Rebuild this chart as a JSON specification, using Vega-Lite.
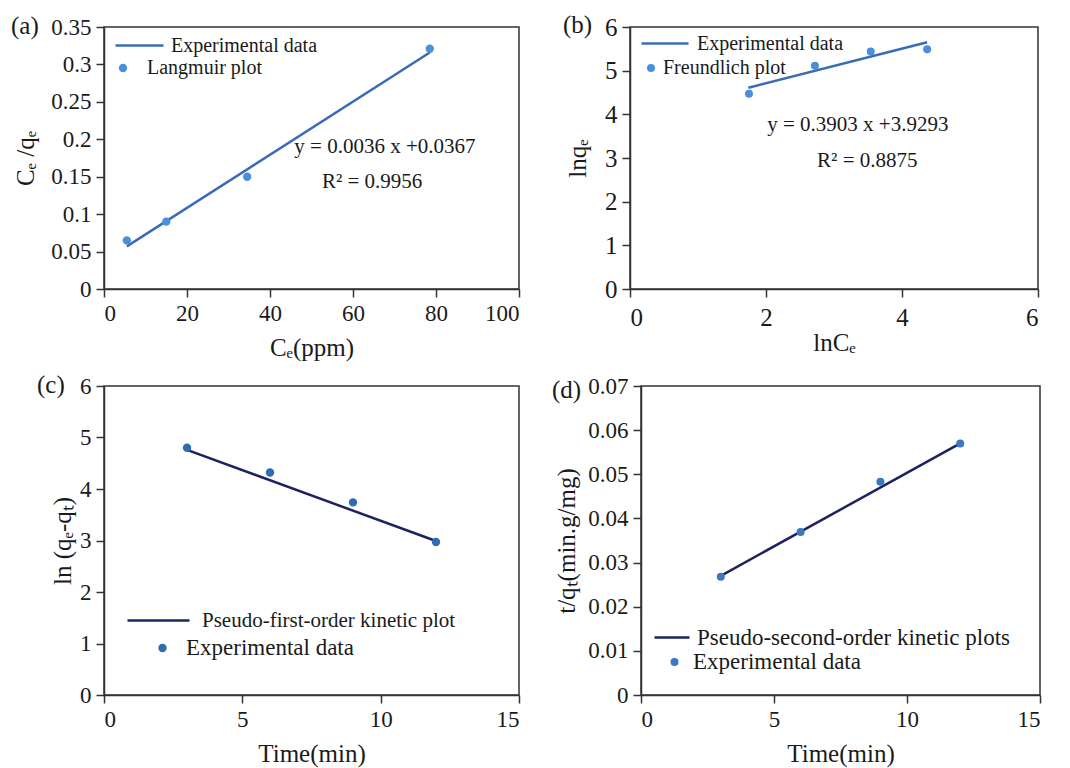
{
  "$schema": "https://vega.github.io/schema/vega-lite/v6.json",
  "background": "white",
  "padding": {"left": 10, "top": 12, "right": 5, "bottom": 5},
  "config": {
    "font": "Liberation Serif",
    "view": {"stroke": "#333", "strokeWidth": 1.5},
    "style": {"guide-label": {"font": "Liberation Serif", "fontSize": 23, "fill": "#1a1a1a"}, "guide-title": {"font": "Liberation Serif", "fontSize": 25, "fill": "#1a1a1a", "fontWeight": "normal"}},
    "axis": {"grid": false, "domainColor": "#333", "domainWidth": 1.5, "tickColor": "#333", "tickWidth": 1.5, "tickSize": 8, "labelFont": "Liberation Serif", "labelFontSize": 23, "labelColor": "#1a1a1a", "labelPadding": 5, "labelOverlap": false, "titleFont": "Liberation Serif", "titleFontSize": 25, "titleFontWeight": "normal", "titleColor": "#1a1a1a", "titlePadding": 10},
    "legend": {"labelFont": "Liberation Serif", "labelColor": "#1a1a1a", "labelFontSize": 20, "labelLimit": 0, "title": null, "padding": 0, "orient": "none"},
    "title": {"font": "Liberation Serif", "fontSize": 25, "fontWeight": "normal", "color": "#1a1a1a"},
    "text": {"font": "Liberation Serif", "fontSize": 21, "color": "#1a1a1a"}
  },
  "spacing": 11,
  "resolve": {"scale": {"x": "independent", "y": "independent", "stroke": "independent", "fill": "independent"}, "legend": {"stroke": "independent", "fill": "independent"}},
  "vconcat": [
    {
      "bounds": "flush",
      "spacing": 111,
      "resolve": {"scale": {"x": "independent", "y": "independent", "stroke": "independent", "fill": "independent"}, "legend": {"stroke": "independent", "fill": "independent"}},
      "hconcat": [
        {
          "width": 415, "height": 262,
          "title": {"text": "(a)", "anchor": "start", "frame": "group", "baseline": "middle", "offset": 0, "dx": -93, "dy": 35},
          "encoding": {
            "x": {"type": "quantitative", "scale": {"domain": [0, 100], "nice": false}, "axis": {"values": [0, 20, 40, 60, 80, 100], "format": "d", "labelFont": "Liberation Serif", "title": "Cₑ(ppm)"}},
            "y": {"type": "quantitative", "scale": {"domain": [0, 0.35], "nice": false}, "axis": {"values": [0, 0.05, 0.1, 0.15, 0.2, 0.25, 0.3, 0.35], "format": "~g", "labelFont": "Liberation Serif", "title": "Cₑ /qₑ", "titlePadding": 12}}
          },
          "layer": [
            {
              "data": {"values": [{"Ce": 5.5, "v": 0.057, "s": "Experimental  data"}, {"Ce": 78.5, "v": 0.316, "s": "Experimental  data"}]},
              "mark": {"type": "line", "strokeWidth": 2.5},
              "encoding": {
                "x": {"field": "Ce"},
                "y": {"field": "v"},
                "stroke": {"field": "s", "type": "nominal", "scale": {"range": ["#3a6bb8"]}, "legend": {"symbolType": "stroke", "symbolSize": 2304, "symbolStrokeWidth": 2.5, "labelOffset": 6, "legendX": 10, "legendY": -7}}
              }
            },
            {
              "data": {"values": [{"Ce": 5.5, "v": 0.065, "s": "Langmuir plot"}, {"Ce": 15, "v": 0.09, "s": "Langmuir plot"}, {"Ce": 34.5, "v": 0.15, "s": "Langmuir plot"}, {"Ce": 78.5, "v": 0.321, "s": "Langmuir plot"}]},
              "mark": {"type": "point", "filled": true, "size": 70, "opacity": 1},
              "encoding": {
                "x": {"field": "Ce"},
                "y": {"field": "v"},
                "fill": {"field": "s", "type": "nominal", "scale": {"range": ["#4a90d9"]}, "legend": {"symbolType": "circle", "symbolSize": 70, "labelOffset": 14, "legendX": 9, "legendY": 31}}
              }
            },
            {"data": {"values": [{"label": "y = 0.0036 x +0.0367"}]}, "mark": {"type": "text"}, "encoding": {"x": {"datum": 67.7}, "y": {"datum": 0.19}, "text": {"field": "label"}}},
            {"data": {"values": [{"label": "R² = 0.9956"}]}, "mark": {"type": "text"}, "encoding": {"x": {"datum": 64.6}, "y": {"datum": 0.1435}, "text": {"field": "label"}}}
          ]
        },
        {
          "width": 408, "height": 262,
          "title": {"text": "(b)", "anchor": "start", "frame": "group", "baseline": "middle", "offset": 0, "dx": -67, "dy": 35},
          "encoding": {
            "x": {"type": "quantitative", "scale": {"domain": [0, 6], "nice": false}, "axis": {"values": [0, 2, 4, 6], "format": "d", "labelFont": "Liberation Serif", "labelFontSize": 25, "labelPadding": 8, "titlePadding": 0, "title": "lnCₑ"}},
            "y": {"type": "quantitative", "scale": {"domain": [0, 6], "nice": false}, "axis": {"values": [0, 1, 2, 3, 4, 5, 6], "format": "d", "labelFont": "Liberation Serif", "labelFontSize": 25, "titlePadding": 14, "title": "lnqₑ"}}
          },
          "layer": [
            {
              "data": {"values": [{"lnCe": 1.74, "v": 4.61, "s": "Experimental  data"}, {"lnCe": 4.37, "v": 5.65, "s": "Experimental  data"}]},
              "mark": {"type": "line", "strokeWidth": 2.5},
              "encoding": {
                "x": {"field": "lnCe"},
                "y": {"field": "v"},
                "stroke": {"field": "s", "type": "nominal", "scale": {"range": ["#3a6bb8"]}, "legend": {"symbolType": "stroke", "symbolSize": 2209, "symbolStrokeWidth": 2.5, "labelOffset": 7, "legendX": 10, "legendY": -8.5}}
              }
            },
            {
              "data": {"values": [{"lnCe": 1.75, "v": 4.47, "s": "Freundlich plot"}, {"lnCe": 2.72, "v": 5.11, "s": "Freundlich plot"}, {"lnCe": 3.54, "v": 5.44, "s": "Freundlich plot"}, {"lnCe": 4.37, "v": 5.49, "s": "Freundlich plot"}]},
              "mark": {"type": "point", "filled": true, "size": 64, "opacity": 1},
              "encoding": {
                "x": {"field": "lnCe"},
                "y": {"field": "v"},
                "fill": {"field": "s", "type": "nominal", "scale": {"range": ["#4a90d9"]}, "legend": {"symbolType": "circle", "symbolSize": 64, "labelOffset": 2, "legendX": 11, "legendY": 31}}
              }
            },
            {"data": {"values": [{"label": "y = 0.3903 x +3.9293"}]}, "mark": {"type": "text"}, "encoding": {"x": {"datum": 3.35}, "y": {"datum": 3.75}, "text": {"field": "label"}}},
            {"data": {"values": [{"label": "R² = 0.8875"}]}, "mark": {"type": "text"}, "encoding": {"x": {"datum": 3.49}, "y": {"datum": 2.93}, "text": {"field": "label"}}}
          ]
        }
      ]
    },
    {
      "bounds": "flush",
      "spacing": 122,
      "resolve": {"scale": {"x": "independent", "y": "independent", "stroke": "independent", "fill": "independent"}, "legend": {"stroke": "independent", "fill": "independent"}},
      "hconcat": [
        {
          "width": 415, "height": 309,
          "title": {"text": "(c)", "anchor": "start", "frame": "group", "baseline": "middle", "offset": 0, "dx": -67, "dy": 35},
          "encoding": {
            "x": {"type": "quantitative", "scale": {"domain": [0, 15], "nice": false}, "axis": {"values": [0, 5, 10, 15], "format": "d", "labelFont": "Liberation Serif", "title": "Time(min)"}},
            "y": {"type": "quantitative", "scale": {"domain": [0, 6], "nice": false}, "axis": {"values": [0, 1, 2, 3, 4, 5, 6], "format": "d", "labelFont": "Liberation Serif", "titlePadding": 4, "title": "ln (qₑ-qₜ)"}}
          },
          "layer": [
            {
              "data": {"values": [{"t": 3, "v": 4.76, "s": "Pseudo-first-order  kinetic plot"}, {"t": 12, "v": 2.99, "s": "Pseudo-first-order  kinetic plot"}]},
              "mark": {"type": "line", "strokeWidth": 2.5},
              "encoding": {
                "x": {"field": "t"},
                "y": {"field": "v"},
                "stroke": {"field": "s", "type": "nominal", "scale": {"range": ["#1c2260"]}, "legend": {"symbolType": "stroke", "symbolSize": 3844, "symbolStrokeWidth": 2.5, "labelFontSize": 21, "labelOffset": 11, "legendX": 22, "legendY": 202}}
              }
            },
            {
              "data": {"values": [{"t": 3, "v": 4.8, "s": "Experimental data"}, {"t": 6, "v": 4.32, "s": "Experimental data"}, {"t": 9, "v": 3.74, "s": "Experimental data"}, {"t": 12, "v": 2.97, "s": "Experimental data"}]},
              "mark": {"type": "point", "filled": true, "size": 70, "opacity": 1},
              "encoding": {
                "x": {"field": "t"},
                "y": {"field": "v"},
                "fill": {"field": "s", "type": "nominal", "scale": {"range": ["#2e6db4"]}, "legend": {"symbolType": "circle", "symbolSize": 70, "labelFontSize": 23, "labelOffset": 12, "legendX": 47, "legendY": 250.5}}
              }
            }
          ]
        },
        {
          "width": 399, "height": 309,
          "title": {"text": "(d)", "anchor": "start", "frame": "group", "baseline": "middle", "offset": 0, "dx": -89, "dy": 40},
          "encoding": {
            "x": {"type": "quantitative", "scale": {"domain": [0, 15], "nice": false}, "axis": {"values": [0, 5, 10, 15], "format": "d", "labelFont": "Liberation Serif", "titlePadding": 10, "title": "Time(min)"}},
            "y": {"type": "quantitative", "scale": {"domain": [0, 0.07], "nice": false}, "axis": {"values": [0, 0.01, 0.02, 0.03, 0.04, 0.05, 0.06, 0.07], "format": "~g", "labelFont": "Liberation Serif", "titlePadding": 8, "title": "t/qₜ(min.g/mg)"}}
          },
          "layer": [
            {
              "data": {"values": [{"t": 3, "v": 0.027, "s": "Pseudo-second-order kinetic plots"}, {"t": 12, "v": 0.057, "s": "Pseudo-second-order kinetic plots"}]},
              "mark": {"type": "line", "strokeWidth": 2.5},
              "encoding": {
                "x": {"field": "t"},
                "y": {"field": "v"},
                "stroke": {"field": "s", "type": "nominal", "scale": {"range": ["#1c2260"]}, "legend": {"symbolType": "stroke", "symbolSize": 1225, "symbolStrokeWidth": 2.5, "labelFontSize": 23, "labelOffset": 6, "legendX": 12, "legendY": 232.5}}
              }
            },
            {
              "data": {"values": [{"t": 3, "v": 0.0268, "s": "Experimental data"}, {"t": 6, "v": 0.0369, "s": "Experimental data"}, {"t": 9, "v": 0.0483, "s": "Experimental data"}, {"t": 12, "v": 0.057, "s": "Experimental data"}]},
              "mark": {"type": "point", "filled": true, "size": 64, "opacity": 1},
              "encoding": {
                "x": {"field": "t"},
                "y": {"field": "v"},
                "fill": {"field": "s", "type": "nominal", "scale": {"range": ["#3a78c0"]}, "legend": {"symbolType": "circle", "symbolSize": 64, "labelFontSize": 23, "labelOffset": 7, "legendX": 22, "legendY": 264.5}}
              }
            }
          ]
        }
      ]
    }
  ]
}
